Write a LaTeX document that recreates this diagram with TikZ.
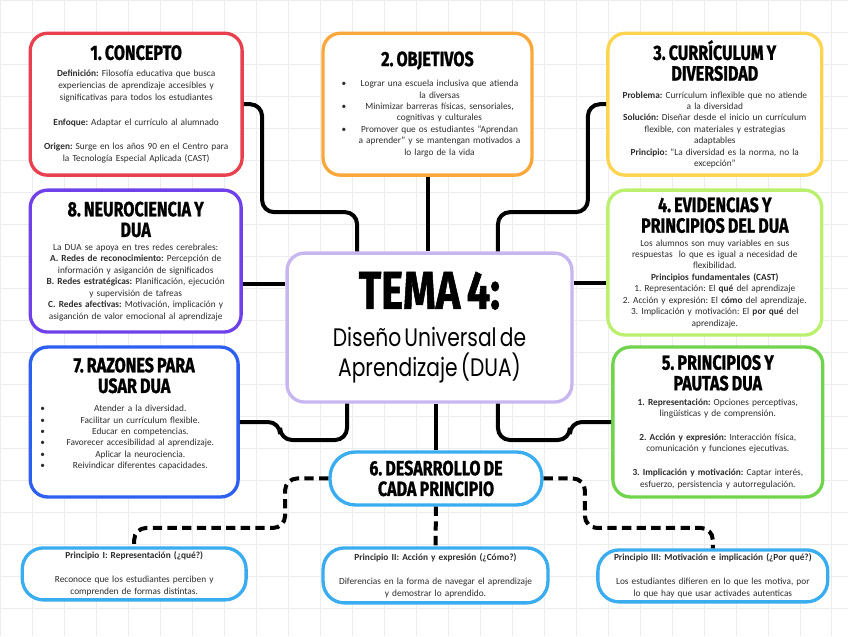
\documentclass[tikz,border=0pt]{standalone}
\usepackage{fontspec}
\setmainfont{Carlito}
\newfontfamily\headfont{Fira Sans}[FakeStretch=0.78, BoldFeatures={FakeBold=1}]
\newfontfamily\handfont{Poppins}[FakeStretch=0.8]
\usepackage{tikz}
\usetikzlibrary{calc}
\definecolor{dlRed}{RGB}{232,64,78}
\definecolor{dlOrange}{RGB}{250,168,60}
\definecolor{dlYellow}{RGB}{252,212,80}
\definecolor{dlLime}{RGB}{186,240,110}
\definecolor{dlGreen}{RGB}{112,212,76}
\definecolor{dlBlue}{RGB}{45,95,240}
\definecolor{dlPurple}{RGB}{112,64,235}
\definecolor{dlLavender}{RGB}{200,182,240}
\definecolor{dlSky}{RGB}{58,172,240}
\definecolor{dlInk}{RGB}{45,45,45}
\setlength{\parindent}{0pt}
\frenchspacing
\newcommand{\cardtitle}[2][3pt]{{\color{black}\headfont\bfseries\fontsize{15.5}{15.5}\selectfont #2\par}\vspace{#1}}
\newcommand{\objitem}[2]{\noindent\hspace*{10.5pt}\makebox[7.5pt][l]{#1}\makebox[132pt]{#2}\par}
\newcommand{\razitem}[1]{\noindent\hspace*{4pt}\makebox[5.2pt][l]{\textbullet}\makebox[139.5pt]{#1}\par}

\begin{document}
\begin{tikzpicture}[x=0.75pt, y=-0.75pt,
    card/.style={draw=#1, line width=2.5pt, rounded corners=13pt, fill=white,
                 align=center, inner xsep=2pt, inner ysep=2pt, text=dlInk,
                 font=\fontsize{7}{8.6}\selectfont},
    pill/.style={card=#1, rounded corners=16pt, font=\fontsize{7}{9}\selectfont},
    link/.style={line width=3pt, rounded corners=9pt},
    dlink/.style={link, dash pattern=on 7pt off 4pt},
    gridline/.style={draw=black!7, line width=0.4pt}
]
% --- Paper: white sheet with a faint grid.
\fill[white] (0,0) rectangle (848,636);
\draw[gridline, step=24pt] (0,0) grid (848,636);
\useasboundingbox (0,0) rectangle (848,636);

% --- Top row.
\node[card=dlRed, text width=155pt, minimum height=106.5pt,
      font=\fontsize{7}{9.2}\selectfont] (concepto) at (136,104) {%
    \cardtitle[3.2pt]{1. CONCEPTO}
    \textbf{Definición:} Filosofía educativa que busca\\
    experiencias de aprendizaje accesibles y\\
    significativas para todos los estudiantes\par\vspace{9pt}
    \textbf{Enfoque:} Adaptar el currículo al alumnado\par\vspace{9pt}
    \textbf{Origen:} Surge en los años 90 en el Centro para\\
    la Tecnología Especial Aplicada (CAST)};

\node[card=dlOrange, text width=152.75pt, minimum height=106.5pt] (objetivos) at (427.5,104) {%
    \cardtitle[6.8pt]{2. OBJETIVOS}
    \objitem{\textbullet}{Lograr una escuela inclusiva que atienda}
    \objitem{}{la diversas}
    \objitem{\textbullet}{Minimizar barreras físicas, sensoriales,}
    \objitem{}{cognitivas y culturales}
    \objitem{\textbullet}{Promover que os estudiantes “Aprendan}
    \objitem{}{a aprender” y se mantengan motivados a}
    \objitem{}{lo largo de la vida}};

\node[card=dlYellow, text width=156.5pt, minimum height=106.5pt] (curriculo) at (715,104) {%
    \cardtitle[4.5pt]{3. CURRÍCULUM Y\\DIVERSIDAD}
    \textbf{Problema:} Currículum inflexible que no atiende\\
    a la diversidad\\
    \textbf{Solución:} Diseñar desde el inicio un currículum\\
    flexible, con materiales y estrategias\\
    adaptables\\
    \textbf{Principio:} “La diversidad es la norma, no la\\
    excepción”};

% --- Middle row: side boxes and the central topic.
\node[card=dlPurple, text width=154.25pt, minimum height=106.5pt] (neuro) at (135.5,261) {%
    \cardtitle[1.4pt]{8. NEUROCIENCIA Y\\DUA}
    La DUA se apoya en tres redes cerebrales:\\
    \textbf{A. Redes de reconocimiento:} Percepción de\\
    información y asiganción de significados\\
    \textbf{B. Redes estratégicas:} Planificación, ejecución\\
    y supervisión de tafreas\\
    \textbf{C. Redes afectivas:} Motivación, implicación y\\
    asiganción de valor emocional al aprendizaje};

\node[card=dlLime, text width=156.5pt, minimum height=108.75pt] (evidencias) at (715,262.5) {%
    \cardtitle[1.4pt]{4. EVIDENCIAS Y\\PRINCIPIOS DEL DUA}
    Los alumnos son muy variables en sus\\
    respuestas\ \ lo que es igual a necesidad de\\
    flexibilidad.\\
    \textbf{Principios fundamentales (CAST)}\\
    1. Representación: El \textbf{qué} del aprendizaje\\
    2. Acción y expresión: El \textbf{cómo} del aprendizaje.\\
    3. Implicación y motivación: El \textbf{por qué} del\\
    aprendizaje.};

\node[card=dlLavender, text width=209.75pt, minimum height=111.75pt] (tema) at (429.5,327.5) {%
    {\color{black}\headfont\bfseries\fontsize{40}{40}\selectfont TEMA\hspace{0.12em}4:\par}\vspace{5pt}
    {\color{black}\handfont\fontsize{19}{23}\selectfont Diseño Universal de\\Aprendizaje (DUA)\par}};

\node[card=dlBlue, text width=152pt, minimum height=112.5pt] (razones) at (134,422) {%
    \cardtitle[5.4pt]{7. RAZONES PARA\\USAR DUA}
    \razitem{Atender a la diversidad.}
    \razitem{Facilitar un currículum flexible.}
    \razitem{Educar en competencias.}
    \razitem{Favorecer accesibilidad al aprendizaje.}
    \razitem{Aplicar la neurociencia.}
    \razitem{Reivindicar diferentes capacidades.}
    \vspace{12pt}};

\node[card=dlGreen, text width=153.5pt, minimum height=112.5pt] (pautas) at (718,422) {%
    \cardtitle[2.4pt]{5. PRINCIPIOS Y\\PAUTAS DUA}
    \textbf{1. Representación:} Opciones perceptivas,\\
    lingüísticas y de comprensión.\par\vspace{9.4pt}
    \textbf{2. Acción y expresión:} Interacción física,\\
    comunicación y funciones ejecutivas.\par\vspace{9.4pt}
    \textbf{3. Implicación y motivación:} Captar interés,\\
    esfuerzo, persistencia y autorregulación.};

% --- Bottom: development of each principle.
\node[pill=dlSky, rounded corners=19pt, text width=155pt, minimum height=39.75pt] (desarrollo) at (436,478.5)
    {\cardtitle[0pt]{6. DESARROLLO DE\\CADA PRINCIPIO}};

\node[pill=dlSky, text width=164pt, minimum height=39pt] (princI) at (134,574) {%
    \textbf{Principio I: Representación (¿qué?)}\par\vspace{9pt}
    Reconoce que los estudiantes perciben y\\
    comprenden de formas distintas.};
\node[pill=dlSky, text width=164.75pt, minimum height=41.25pt] (princII) at (435.5,575.5) {%
    \textbf{Principio II: Acción y expresión (¿Cómo?)}\par\vspace{9pt}
    Diferencias en la forma de navegar el aprendizaje\\
    y demostrar lo aprendido.};
\node[pill=dlSky, text width=168.5pt, minimum height=39pt] (princIII) at (713,576) {%
    \textbf{Principio III: Motivación e implicación (¿Por qué?)}\par\vspace{9pt}
    Los estudiantes difieren en lo que les motiva, por\\
    lo que hay que usar activades autenticas};

% --- Elbow points of the connectors.
\coordinate (k1) at (262,212);
\coordinate (k2) at (357,212);
\coordinate (k3) at (588,212);
\coordinate (k4) at (498,212);
\coordinate (k5) at (280,440);
\coordinate (k6) at (347,440);
\coordinate (k7) at (570,440);
\coordinate (k8) at (498,440);
\coordinate (k9) at (285,528);
\coordinate (k10) at (585,528);

% --- Solid links to the central topic.
\draw[link] (concepto.east) -| (k1) -- (k2) -- (k2 |- tema.north);
\draw[link] (objetivos.south) -- (objetivos.south |- tema.north);
\draw[link] (curriculo.west) -| (k3) -- (k4) -- (k4 |- tema.north);
\draw[link] ($(neuro.east)+(0,23)$) -- ($(tema.west)+(0,-43.5)$);
\draw[link] ($(evidencias.west)+(0,20.5)$) -- ($(tema.east)+(0,-44.5)$);
\draw[link] (razones.east) -| (k5) -- (k6) -- (k6 |- tema.south);
\draw[link] (pautas.west) -| (k7) -- (k8) -- (k8 |- tema.south);
\draw[link] (desarrollo.north) -- (desarrollo.north |- tema.south);

% --- Dashed links to the three principles.
\draw[dlink] (desarrollo.west) -| (k9) -| (princI.north);
\draw[dlink] (desarrollo.south) -- (princII.north);
\draw[dlink] (desarrollo.east) -| (k10) -| (princIII.north);
\end{tikzpicture}
\end{document}
